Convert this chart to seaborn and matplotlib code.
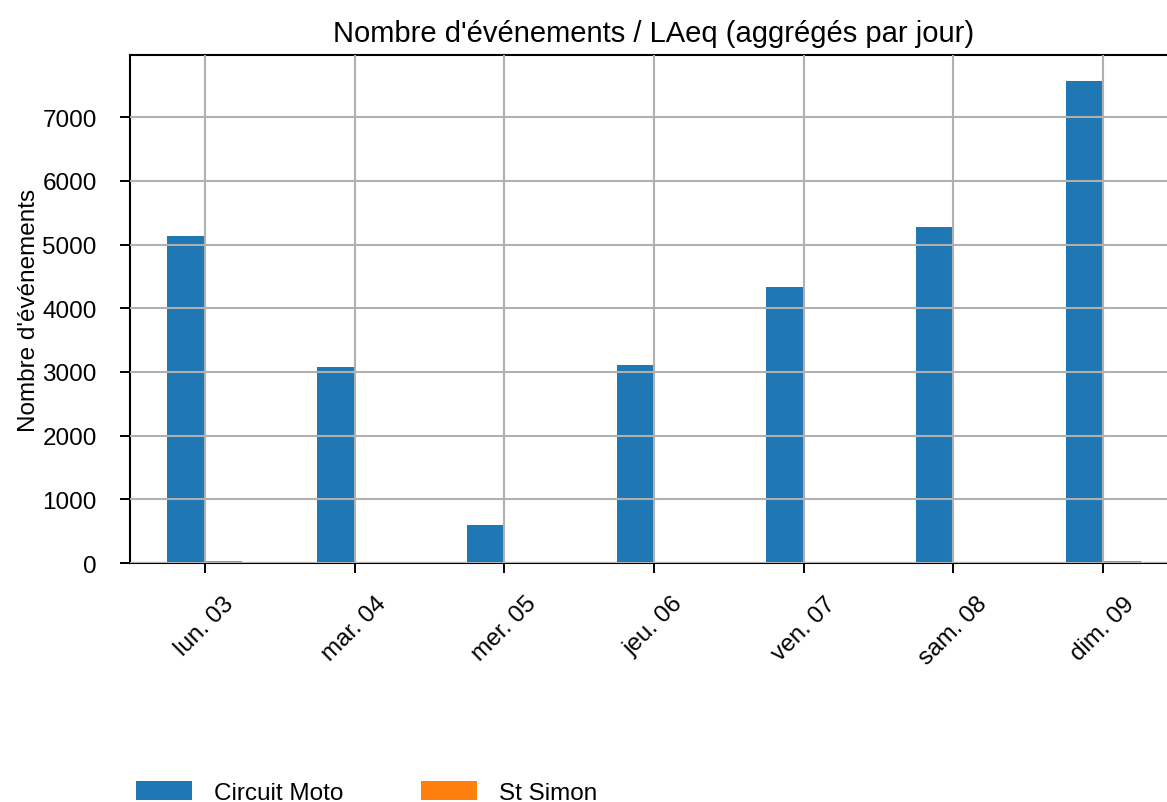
import seaborn as sns
import matplotlib.pyplot as plt
import pandas as pd

days = ["lun. 03", "mar. 04", "mer. 05", "jeu. 06", "ven. 07", "sam. 08", "dim. 09"]
circuit_moto = [5133, 3071, 603, 3104, 4331, 5274, 7576]
st_simon = [25, 20, 0, 22, 18, 20, 24]

data = pd.DataFrame({"jour": days, "Circuit Moto": circuit_moto, "St Simon": st_simon})
data = data.melt(id_vars="jour", var_name="site", value_name="n")

sns.set_style("white")
plt.rcParams['font.family'] = ['Liberation Sans', 'DejaVu Sans']
plt.rcParams['font.size'] = 17.5
plt.rcParams['text.color'] = 'black'
plt.rcParams['axes.labelcolor'] = 'black'

fig = plt.figure(figsize=(11.67, 8.03), dpi=100)
ax = fig.add_axes([0.1114, 0.2976, 0.898, 0.6327])

sns.barplot(data=data, x="jour", y="n", hue="site", palette=["#1f77b4", "#ff7f0e"],
            width=0.5, dodge=True, saturation=1, linewidth=0, ax=ax, legend=True)

ax.set_xlim(-0.5, 6.5)
ax.set_ylim(0, 7576 * 1.053)
ax.set_axisbelow(False)
ax.grid(True, color="#b0b0b0", linewidth=1.5)
ax.set_xlabel("")
ax.set_ylabel("Nombre d'événements", fontsize=17.5, color="black", labelpad=2)
ax.set_title("Nombre d'événements / LAeq (aggrégés par jour)", fontsize=21, pad=10, color="black")
ax.tick_params(axis="both", direction="out", length=7, width=1.4, colors="black",
               labelsize=17.5, bottom=True, left=True)
ax.tick_params(axis="y", pad=17)
ax.tick_params(axis="x", pad=14)
plt.setp(ax.get_xticklabels(), rotation=45)

for side in ["left", "bottom", "top"]:
    ax.spines[side].set_color("black")
    ax.spines[side].set_linewidth(1.5)
ax.spines["right"].set_visible(False)

handles, labels = ax.get_legend_handles_labels()
ax.legend_.remove()
fig.legend(handles, labels, loc="lower left", bbox_to_anchor=(0.098, -0.03), ncol=2,
           frameon=False, fontsize=17.5, handlelength=2.3, handleheight=0.85,
           handletextpad=0.9, columnspacing=3.2)

fig.savefig("out.png", dpi=100)
